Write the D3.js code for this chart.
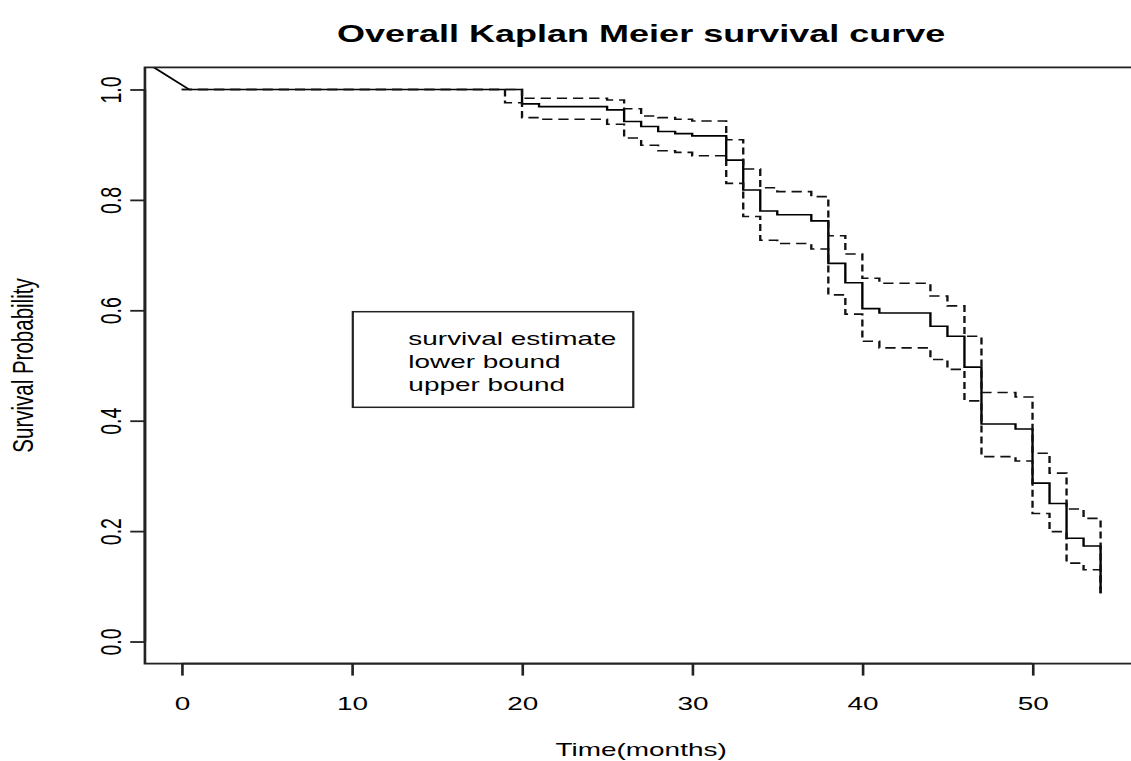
<!DOCTYPE html>
<html>
<head>
<meta charset="utf-8">
<script src="https://cdn.jsdelivr.net/npm/d3@7"></script>
<style>
  html, body { margin: 0; padding: 0; background: #fff; }
  svg { display: block; }
  text { font-family: "Liberation Sans", Arial, Helvetica, sans-serif; fill: #000; }
</style>
</head>
<body>
<svg id="chart" width="1131" height="761"></svg>
<script>
// Kaplan-Meier estimate with its confidence band (months since entry)
const months      = [0, 19, 20, 21, 25, 26, 27, 28, 29, 30, 32, 33, 34, 35, 37, 38, 39, 40, 41, 44, 45, 46, 47, 49, 50, 51, 52, 53, 54];
const survival    = [1.000, 1.000, 0.974, 0.969, 0.963, 0.942, 0.933, 0.924, 0.920, 0.916, 0.872, 0.818, 0.780, 0.773, 0.762, 0.685, 0.650, 0.603, 0.595, 0.571, 0.553, 0.497, 0.394, 0.385, 0.287, 0.250, 0.187, 0.173, 0.088];
const lowerBound  = [1.000, 0.976, 0.949, 0.946, 0.937, 0.912, 0.899, 0.889, 0.886, 0.880, 0.830, 0.770, 0.727, 0.721, 0.711, 0.628, 0.593, 0.544, 0.532, 0.511, 0.493, 0.436, 0.335, 0.327, 0.232, 0.199, 0.142, 0.130, 0.081];
const upperBound  = [1.000, 1.000, 0.984, 0.984, 0.981, 0.965, 0.952, 0.949, 0.946, 0.943, 0.909, 0.856, 0.822, 0.815, 0.806, 0.735, 0.702, 0.658, 0.649, 0.626, 0.608, 0.553, 0.451, 0.443, 0.341, 0.305, 0.240, 0.223, 0.095];

// short joining segment drawn before the step curve starts
const leadInMonths   = [-2.0, 0.44];
const leadInSurvival = [1.047, 1.000];

const xTicks = [0, 10, 20, 30, 40, 50];
const yTicks = [0, 0.2, 0.4, 0.6, 0.8, 1.0];
const legendLabels = ["survival estimate", "lower bound", "upper bound"];

const chartTitle = "Overall Kaplan Meier survival curve";
const xTitle = "Time(months)";
const yTitle = "Survival Probability";

// The figure is laid out on a narrower canvas and widened horizontally.
const stretch = 1.47;

const svg = d3.select("#chart");
svg.append("rect").attr("width", 1131).attr("height", 761).attr("fill", "#fff");
const root = svg.append("g").attr("transform", `scale(${stretch},1)`);

// plot region (inner box)
const box = { left: 98.6, right: 773.7, top: 67.4, bottom: 663.6 };

// data range padded by 4% on each side
const xMin = 0, xMax = 54;
const xPad = 0.04 * (xMax - xMin);
const x = d3.scaleLinear().domain([xMin - xPad, xMax + xPad]).range([box.left, box.right]);
const y = d3.scaleLinear().domain([-0.04, 1.04]).range([box.bottom, box.top]);

root.append("clipPath").attr("id", "plotClip")
  .append("rect")
  .attr("x", box.left).attr("y", box.top)
  .attr("width", box.right - box.left).attr("height", box.bottom - box.top);

const plot = root.append("g").attr("clip-path", "url(#plotClip)");

const stepLine = d3.line().curve(d3.curveStepAfter)
  .x(d => x(d[0])).y(d => y(d[1]));
const straight = d3.line().x(d => x(d[0])).y(d => y(d[1]));

const zipped = vals => months.map((m, i) => [m, vals[i]]);

// survival estimate (solid, thin grey where it sits under the band at 1.0)
plot.append("path")
  .attr("d", straight(leadInMonths.map((m, i) => [m, leadInSurvival[i]])))
  .attr("fill", "none").attr("stroke", "#000").attr("stroke-width", 1.6);
plot.append("path")
  .attr("d", stepLine(zipped(survival).map((d, i) => i === 0 ? [leadInMonths[1], d[1]] : d)))
  .attr("fill", "none").attr("stroke", "#000").attr("stroke-width", 1.6);

// confidence bounds (dashed)
[lowerBound, upperBound].forEach(vals => {
  plot.append("path")
    .attr("d", stepLine(zipped(vals)))
    .attr("fill", "none")
    .attr("stroke", "#111")
    .attr("stroke-width", 1.6)
    .attr("stroke-dasharray", "7,4");
});

// frame
root.append("rect")
  .attr("x", box.left).attr("y", box.top)
  .attr("width", box.right - box.left).attr("height", box.bottom - box.top)
  .attr("fill", "none").attr("stroke", "#222").attr("stroke-width", 1.8);

// x axis
const xAxis = d3.axisBottom(x).tickValues(xTicks).tickSize(12).tickPadding(21).tickFormat(d3.format("d"));
const gx = root.append("g").attr("transform", `translate(0,${box.bottom})`).call(xAxis);
gx.select(".domain").attr("d", `M${x(xTicks[0])},0H${x(xTicks[xTicks.length - 1])}`)
  .attr("stroke", "#222").attr("stroke-width", 1.8);
gx.selectAll(".tick line").attr("stroke", "#222").attr("stroke-width", 1.8);
gx.selectAll(".tick text").attr("font-size", 19).attr("fill", "#000")
  .attr("font-family", "Liberation Sans, Arial, sans-serif");

// y axis with labels running parallel to the axis
const yAxis = d3.axisLeft(y).tickValues(yTicks).tickSize(10).tickFormat(d3.format(".1f"));
const gy = root.append("g").attr("transform", `translate(${box.left},0)`).call(yAxis);
gy.select(".domain").attr("d", `M0,${y(yTicks[0])}V${y(yTicks[yTicks.length - 1])}`)
  .attr("stroke", "#222").attr("stroke-width", 1.8);
gy.selectAll(".tick line").attr("stroke", "#222").attr("stroke-width", 1.8);
gy.selectAll(".tick text")
  .attr("font-size", 19.5).attr("fill", "#000")
  .attr("font-family", "Liberation Sans, Arial, sans-serif")
  .attr("x", null).attr("dy", null)
  .attr("text-anchor", "middle")
  .attr("transform", `translate(${82.3 - box.left},0) rotate(-90)`);

// titles
root.append("text")
  .attr("x", (box.left + box.right) / 2).attr("y", 42)
  .attr("text-anchor", "middle").attr("font-size", 24.5).attr("font-weight", "bold")
  .text(chartTitle);

root.append("text")
  .attr("x", (box.left + box.right) / 2).attr("y", 756)
  .attr("text-anchor", "middle").attr("font-size", 19)
  .text(xTitle);

root.append("text")
  .attr("transform", `translate(22.4,${(y(0) + y(1)) / 2}) rotate(-90)`)
  .attr("text-anchor", "middle").attr("font-size", 20.5)
  .text(yTitle);

// legend
const legend = { left: 240, top: 311.7, width: 190.8, height: 95.6 };
root.append("rect")
  .attr("x", legend.left).attr("y", legend.top)
  .attr("width", legend.width).attr("height", legend.height)
  .attr("fill", "#fff").attr("stroke", "#222").attr("stroke-width", 1.5);
root.selectAll(".legend-label").data(legendLabels).enter()
  .append("text").attr("class", "legend-label")
  .attr("x", legend.left + 37.8)
  .attr("y", (d, i) => legend.top + 33.3 + i * 23)
  .attr("font-size", 19)
  .text(d => d);
</script>
</body>
</html>
